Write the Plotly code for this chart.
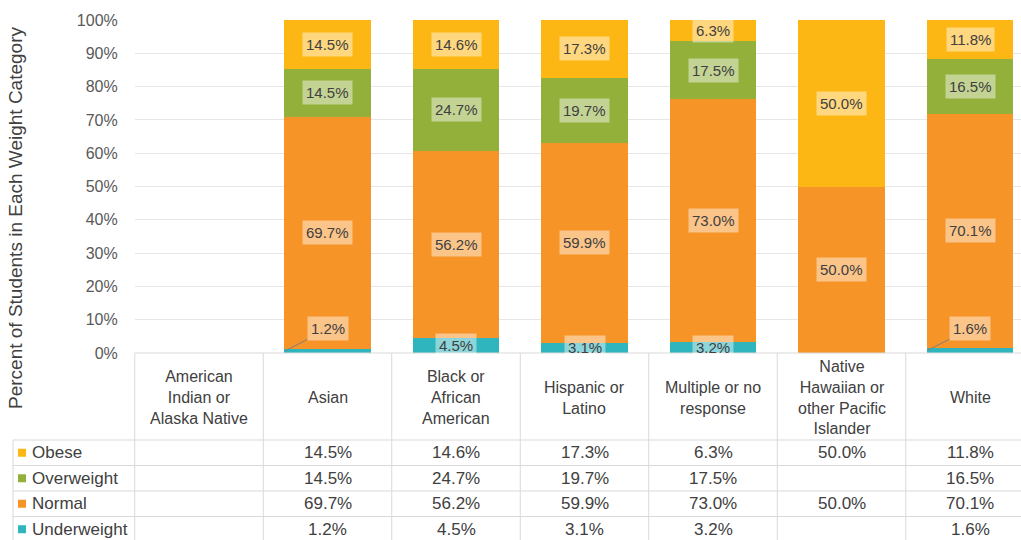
import plotly.graph_objects as go

W, H = 1021, 540

# --- data -------------------------------------------------------------
races = [
    "American Indian or Alaska Native",
    "Asian",
    "Black or African American",
    "Hispanic or Latino",
    "Multiple or no response",
    "Native Hawaiian or other Pacific Islander",
    "White",
]
race_labels = [
    "American<br>Indian or<br>Alaska Native",
    "Asian",
    "Black or<br>African<br>American",
    "Hispanic or<br>Latino",
    "Multiple or no<br>response",
    "Native<br>Hawaiian or<br>other Pacific<br>Islander",
    "White",
]

underweight = [None, 1.2, 4.5, 3.1, 3.2, None, 1.6]
normal = [None, 69.7, 56.2, 59.9, 73.0, 50.0, 70.1]
overweight = [None, 14.5, 24.7, 19.7, 17.5, None, 16.5]
obese = [None, 14.5, 14.6, 17.3, 6.3, 50.0, 11.8]

# stacking order bottom -> top
series = [
    ("Underweight", underweight, "#2EB5BE"),
    ("Normal", normal, "#F79428"),
    ("Overweight", overweight, "#93B03B"),
    ("Obese", obese, "#FDB714"),
]

FONT = "Liberation Sans, Arial, sans-serif"
TEXT = "#404040"
GRID = "#E6E6E6"
LINE = "#D9D9D9"


def xp(px):
    return px / W


def yp(py):
    return 1 - py / H


# plot area / table geometry (pixels)
PLOT_L, PLOT_T, PLOT_B = 134.75, 20, 353
COL_W = 128.5
TABLE_L = 13
ROW_EDGES = [440, 465.5, 491, 516.5, 542]

fig = go.Figure()

for name, vals, color in series:
    fig.add_trace(
        go.Bar(
            x=list(range(len(races))),
            y=vals,
            name=name,
            marker=dict(color=color, line=dict(width=0)),
            width=0.673,
            showlegend=False,
            hovertemplate="%{y:.1f}%<extra>" + name + "</extra>",
        )
    )

# --- data labels ------------------------------------------------------
annotations = []
base = [0.0] * len(races)
for name, vals, color in series:
    for i, v in enumerate(vals):
        if v is None:
            continue
        mid = base[i] + v / 2
        lab = dict(
            text=f"{v:.1f}%",
            font=dict(family=FONT, size=15, color=TEXT),
            bgcolor="rgba(255,255,255,0.45)",
            borderpad=3,
            xref="x",
            yref="y",
        )
        if name == "Underweight" and v < 2:
            # small slice: label pulled up with a leader line
            lab.update(
                x=i - 0.33,
                y=base[i] + v / 2,
                ax=i,
                ay=7.3,
                axref="x",
                ayref="y",
                showarrow=True,
                arrowhead=0,
                arrowwidth=1,
                arrowcolor="#7F7F7F",
                standoff=0,
            )
        else:
            lab.update(x=i, y=mid, showarrow=False)
        annotations.append(lab)
        base[i] += v

# --- y axis title -----------------------------------------------------
annotations.append(
    dict(
        text="Percent of Students in Each Weight Category",
        xref="paper",
        yref="paper",
        x=xp(16),
        y=yp(218),
        xanchor="center",
        yanchor="middle",
        textangle=-90,
        showarrow=False,
        font=dict(family=FONT, size=19, color=TEXT),
    )
)

# --- data table -------------------------------------------------------
head_mid = (PLOT_B + ROW_EDGES[0]) / 2
for i, lab in enumerate(race_labels):
    annotations.append(
        dict(
            text=lab,
            xref="x",
            yref="paper",
            x=i,
            y=yp(head_mid + 1),
            xanchor="center",
            yanchor="middle",
            showarrow=False,
            font=dict(family=FONT, size=16, color=TEXT),
            align="center",
        )
    )

table_rows = list(reversed(series))  # Obese, Overweight, Normal, Underweight
for r, (name, vals, color) in enumerate(table_rows):
    cy = (ROW_EDGES[r] + ROW_EDGES[r + 1]) / 2
    annotations.append(
        dict(
            text=name,
            xref="paper",
            yref="paper",
            x=xp(30),
            y=yp(cy),
            xanchor="left",
            yanchor="middle",
            showarrow=False,
            font=dict(family=FONT, size=17, color=TEXT),
        )
    )
    for i, v in enumerate(vals):
        if v is None:
            continue
        annotations.append(
            dict(
                text=f"{v:.1f}%",
                xref="x",
                yref="paper",
                x=i,
                y=yp(cy),
                xanchor="center",
                yanchor="middle",
                showarrow=False,
                font=dict(family=FONT, size=17, color=TEXT),
            )
        )

shapes = []
# legend keys in the table
for r, (name, vals, color) in enumerate(table_rows):
    cy = (ROW_EDGES[r] + ROW_EDGES[r + 1]) / 2
    shapes.append(
        dict(
            type="rect",
            xref="paper",
            yref="paper",
            x0=xp(18),
            x1=xp(26),
            y0=yp(cy + 4),
            y1=yp(cy - 4),
            fillcolor=color,
            line=dict(width=0),
        )
    )

# horizontal table rules
shapes.append(
    dict(type="line", xref="paper", yref="paper",
         x0=xp(PLOT_L), x1=1, y0=yp(PLOT_B), y1=yp(PLOT_B),
         line=dict(color=LINE, width=1))
)
for ey in ROW_EDGES[:-1]:
    shapes.append(
        dict(type="line", xref="paper", yref="paper",
             x0=xp(TABLE_L), x1=1, y0=yp(ey), y1=yp(ey),
             line=dict(color=LINE, width=1))
    )
# vertical table rules
shapes.append(
    dict(type="line", xref="paper", yref="paper",
         x0=xp(TABLE_L), x1=xp(TABLE_L), y0=yp(ROW_EDGES[0]), y1=0,
         line=dict(color=LINE, width=1))
)
for k in range(len(races)):
    xx = PLOT_L + k * COL_W
    shapes.append(
        dict(type="line", xref="paper", yref="paper",
             x0=xp(xx), x1=xp(xx), y0=yp(PLOT_B), y1=0,
             line=dict(color=LINE, width=1))
    )

fig.update_layout(
    template="none",
    width=W,
    height=H,
    barmode="stack",
    margin=dict(l=0, r=0, t=0, b=0, pad=0, autoexpand=False),
    paper_bgcolor="white",
    plot_bgcolor="white",
    font=dict(family=FONT, size=14, color=TEXT),
    annotations=annotations,
    shapes=shapes,
    xaxis=dict(
        domain=[xp(PLOT_L), 1],
        range=[-0.5, 6.5 - (PLOT_L + 7 * COL_W - W) / COL_W],
        showticklabels=False,
        showgrid=False,
        showline=False,
        zeroline=False,
        automargin=False,
        fixedrange=True,
    ),
    yaxis=dict(
        domain=[yp(PLOT_B), yp(PLOT_T)],
        range=[0, 100],
        dtick=10,
        ticksuffix="%",
        showgrid=True,
        gridcolor=GRID,
        gridwidth=1,
        showline=False,
        zeroline=False,
        automargin=False,
        ticks="",
        ticklabelstandoff=16,
        tickfont=dict(family=FONT, size=16, color="#595959"),
    ),
)

# drop the browser's default 8px body margin so the figure sits at 0,0
fig.write_html(
    "out.html",
    config={"displayModeBar": False},
    post_script="document.body.style.margin='0';",
)
